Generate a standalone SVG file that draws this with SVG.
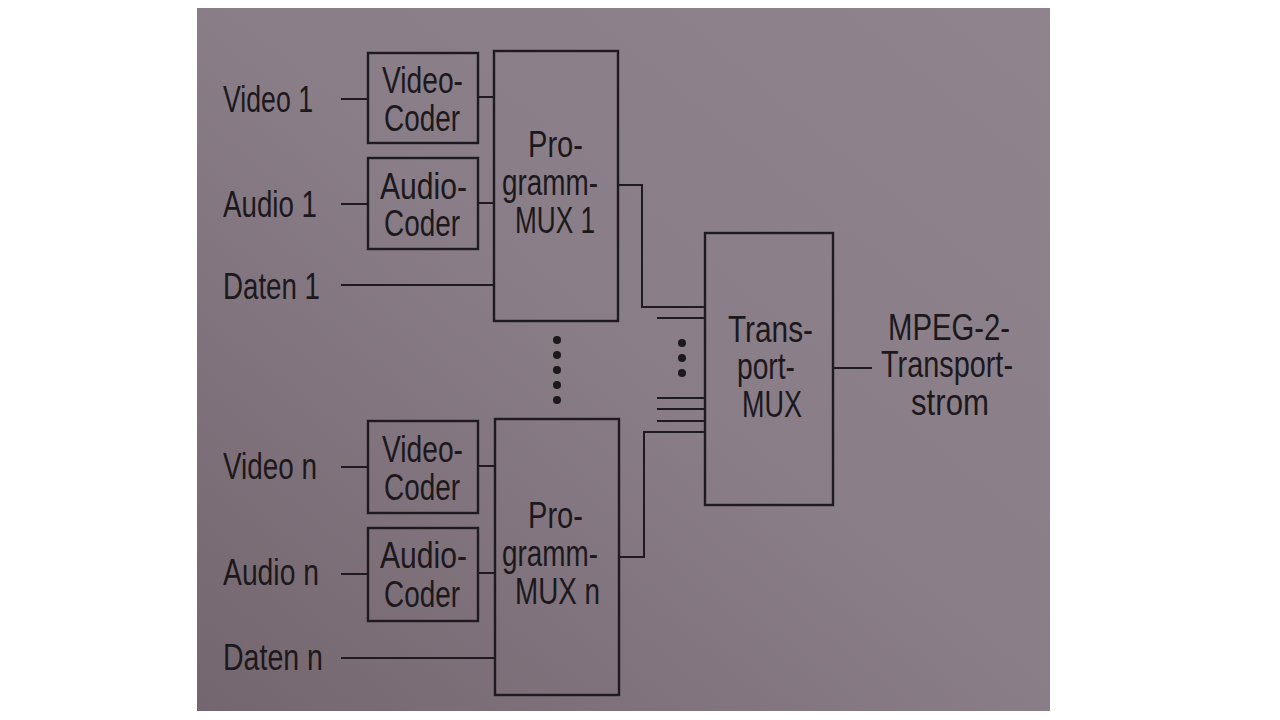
<svg xmlns="http://www.w3.org/2000/svg" width="1280" height="720" viewBox="0 0 1280 720">
<defs>
<linearGradient id="bg" x1="1" y1="0" x2="0" y2="1">
<stop offset="0" stop-color="#8f848d"/>
<stop offset="0.5" stop-color="#897d88"/>
<stop offset="1" stop-color="#74666e"/>
</linearGradient>
<style>
.box{fill:none;stroke:#1f1a1f;stroke-width:2.4}
.ln{fill:none;stroke:#1f1a1f;stroke-width:2}
text{font-family:"Liberation Sans","DejaVu Sans",sans-serif;font-size:36px;fill:#1c181c}
.dot{fill:#1c181c}
</style>
</defs>
<rect width="1280" height="720" fill="#ffffff"/>
<rect x="197" y="8" width="853" height="703" fill="url(#bg)"/>

<g id="labels">
<text x="223" y="112" textLength="90" lengthAdjust="spacingAndGlyphs">Video 1</text>
<text x="223" y="217" textLength="94" lengthAdjust="spacingAndGlyphs">Audio 1</text>
<text x="223" y="299" textLength="97" lengthAdjust="spacingAndGlyphs">Daten 1</text>
<text x="223" y="479" textLength="94" lengthAdjust="spacingAndGlyphs">Video n</text>
<text x="223" y="585" textLength="96" lengthAdjust="spacingAndGlyphs">Audio n</text>
<text x="223" y="670" textLength="100" lengthAdjust="spacingAndGlyphs">Daten n</text>
</g>

<g id="videocoder1">
<rect class="box" x="368" y="53" width="110" height="90"/>
<text x="382" y="93" textLength="81" lengthAdjust="spacingAndGlyphs">Video-</text>
<text x="384" y="131" textLength="76" lengthAdjust="spacingAndGlyphs">Coder</text>
</g>
<g id="audiocoder1">
<rect class="box" x="368" y="158" width="110" height="91"/>
<text x="380" y="199" textLength="87" lengthAdjust="spacingAndGlyphs">Audio-</text>
<text x="384" y="236" textLength="76" lengthAdjust="spacingAndGlyphs">Coder</text>
</g>
<g id="mux1">
<rect class="box" x="494" y="51" width="124" height="270"/>
<text x="528" y="157" textLength="55" lengthAdjust="spacingAndGlyphs">Pro-</text>
<text x="502" y="195" textLength="96" lengthAdjust="spacingAndGlyphs">gramm-</text>
<text x="515" y="233" textLength="80" lengthAdjust="spacingAndGlyphs">MUX 1</text>
</g>

<g id="videocodern">
<rect class="box" x="368" y="421" width="110" height="92"/>
<text x="382" y="462" textLength="81" lengthAdjust="spacingAndGlyphs">Video-</text>
<text x="384" y="500" textLength="76" lengthAdjust="spacingAndGlyphs">Coder</text>
</g>
<g id="audiocodern">
<rect class="box" x="368" y="528" width="110" height="93"/>
<text x="380" y="568" textLength="87" lengthAdjust="spacingAndGlyphs">Audio-</text>
<text x="384" y="607" textLength="76" lengthAdjust="spacingAndGlyphs">Coder</text>
</g>
<g id="muxn">
<rect class="box" x="495" y="419" width="124" height="276"/>
<text x="528" y="528" textLength="55" lengthAdjust="spacingAndGlyphs">Pro-</text>
<text x="502" y="566" textLength="96" lengthAdjust="spacingAndGlyphs">gramm-</text>
<text x="515" y="604" textLength="85" lengthAdjust="spacingAndGlyphs">MUX n</text>
</g>

<g id="transportmux">
<rect class="box" x="705" y="233" width="128" height="272"/>
<text x="728" y="342" textLength="85" lengthAdjust="spacingAndGlyphs">Trans-</text>
<text x="737" y="379" textLength="58" lengthAdjust="spacingAndGlyphs">port-</text>
<text x="742" y="417" textLength="60" lengthAdjust="spacingAndGlyphs">MUX</text>
</g>

<g id="output">
<text x="888" y="340" textLength="122" lengthAdjust="spacingAndGlyphs">MPEG-2-</text>
<text x="881" y="377" textLength="132" lengthAdjust="spacingAndGlyphs">Transport-</text>
<text x="911" y="415" textLength="78" lengthAdjust="spacingAndGlyphs">strom</text>
</g>

<g id="dots">
<circle class="dot" cx="557" cy="340" r="4"/>
<circle class="dot" cx="557" cy="355" r="4"/>
<circle class="dot" cx="557" cy="370" r="4"/>
<circle class="dot" cx="557" cy="385" r="4"/>
<circle class="dot" cx="557" cy="400" r="4"/>
<circle class="dot" cx="682" cy="343" r="4"/>
<circle class="dot" cx="682" cy="358" r="4"/>
<circle class="dot" cx="682" cy="373" r="4"/>
</g>

<g id="connectors">
<line class="ln" x1="341" y1="99" x2="368" y2="99"/>
<line class="ln" x1="478" y1="97" x2="494" y2="97"/>
<line class="ln" x1="341" y1="204" x2="368" y2="204"/>
<line class="ln" x1="478" y1="203" x2="494" y2="203"/>
<line class="ln" x1="341" y1="285" x2="494" y2="285"/>
<line class="ln" x1="341" y1="467" x2="368" y2="467"/>
<line class="ln" x1="478" y1="466" x2="495" y2="466"/>
<line class="ln" x1="341" y1="574" x2="368" y2="574"/>
<line class="ln" x1="478" y1="573" x2="495" y2="573"/>
<line class="ln" x1="341" y1="658" x2="495" y2="658"/>
<polyline class="ln" points="618,185 642,185 642,307 705,307"/>
<line class="ln" x1="657" y1="318" x2="705" y2="318"/>
<line class="ln" x1="657" y1="398" x2="705" y2="398"/>
<line class="ln" x1="657" y1="409" x2="705" y2="409"/>
<line class="ln" x1="657" y1="421" x2="705" y2="421"/>
<polyline class="ln" points="619,557 644,557 644,432 705,432"/>
<line class="ln" x1="833" y1="368" x2="872" y2="368"/>
</g>
</svg>
